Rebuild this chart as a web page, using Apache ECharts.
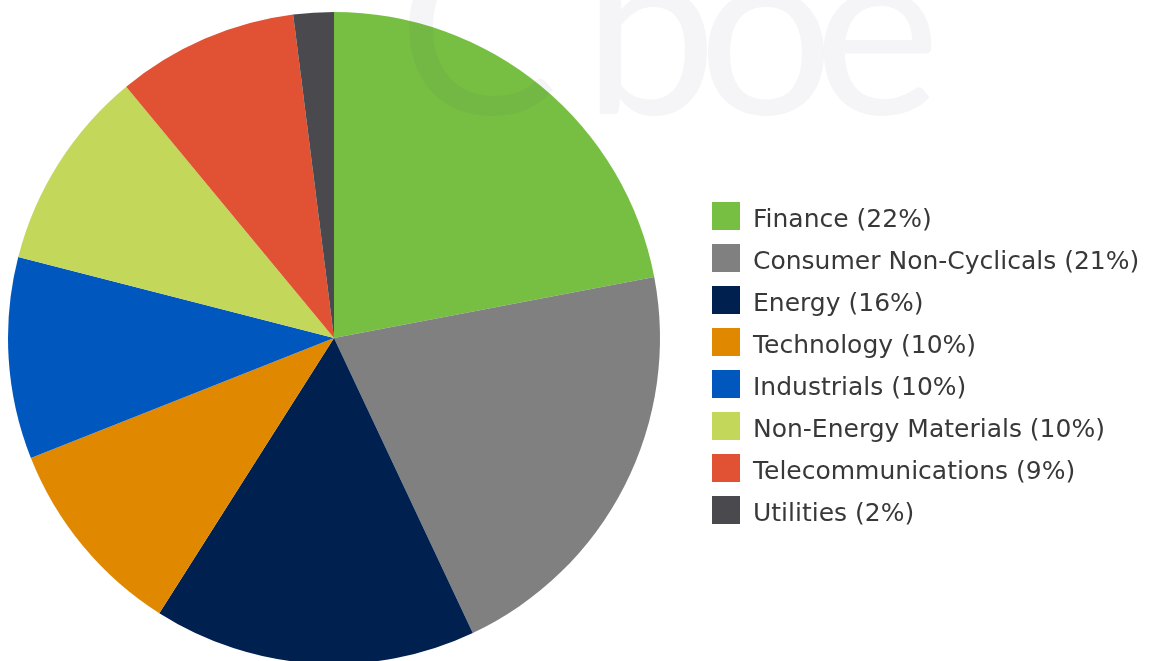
<!DOCTYPE html>
<html>
<head>
<meta charset="utf-8">
<script src="https://cdn.jsdelivr.net/npm/echarts@6/dist/echarts.min.js"></script>
<style>
  html, body { margin: 0; padding: 0; background: #fff; }
  #main { width: 1166px; height: 661px; }
</style>
</head>
<body>
<div id="main"></div>
<script>
// sector weights
const sectors = ['Finance', 'Consumer Non-Cyclicals', 'Energy', 'Technology', 'Industrials', 'Non-Energy Materials', 'Telecommunications', 'Utilities'];
const weights = [22, 21, 16, 10, 10, 10, 9, 2];
const sectorColors = ['#76bf43', '#7f807f', '#00214f', '#e08900', '#0058bf', '#c3d75b', '#e05233', '#4a4a4e'];

// faint logo letters behind/over the chart
const logoLetters = ['C', 'b', 'o', 'e'];
const logoCenters = [478, 650, 766, 877];

let chart = echarts.init(document.getElementById('main'));

let pieData = sectors.map((name, i) => ({
    name: name,
    value: weights[i],
    itemStyle: { color: sectorColors[i] }
}));

let logo = logoLetters.map((ch, i) => ({
    type: 'text',
    x: logoCenters[i],
    y: -83,
    z: 100,
    silent: true,
    style: {
        text: ch,
        align: 'center',
        verticalAlign: 'top',
        fontFamily: 'Lato',
        fontSize: 240,
        fill: 'rgba(70,80,110,0.055)'
    }
}));

let option = {
    backgroundColor: '#fff',
    animation: false,
    legend: {
        orient: 'vertical',
        left: 707,
        top: 197,
        itemWidth: 28,
        itemHeight: 28,
        itemGap: 11,
        icon: 'rect',
        data: sectors,
        textStyle: {
            fontFamily: 'DejaVu Sans',
            fontSize: 25,
            color: '#383838',
            rich: {
                t: {
                    fontFamily: 'DejaVu Sans',
                    fontSize: 25,
                    color: '#383838',
                    padding: [9, 0, 0, 8]
                }
            }
        },
        formatter: function(name){
            let i = sectors.indexOf(name);
            return '{t|' + name + ' (' + weights[i] + '%)}';
        }
    },
    graphic: logo,
    series: [{
        type: 'pie',
        center: [334, 338],
        radius: 326,
        startAngle: 90,
        clockwise: true,
        label: { show: false },
        labelLine: { show: false },
        emphasis: { disabled: true },
        itemStyle: { borderWidth: 0 },
        data: pieData
    }]
};
chart.setOption(option);
</script>
</body>
</html>
